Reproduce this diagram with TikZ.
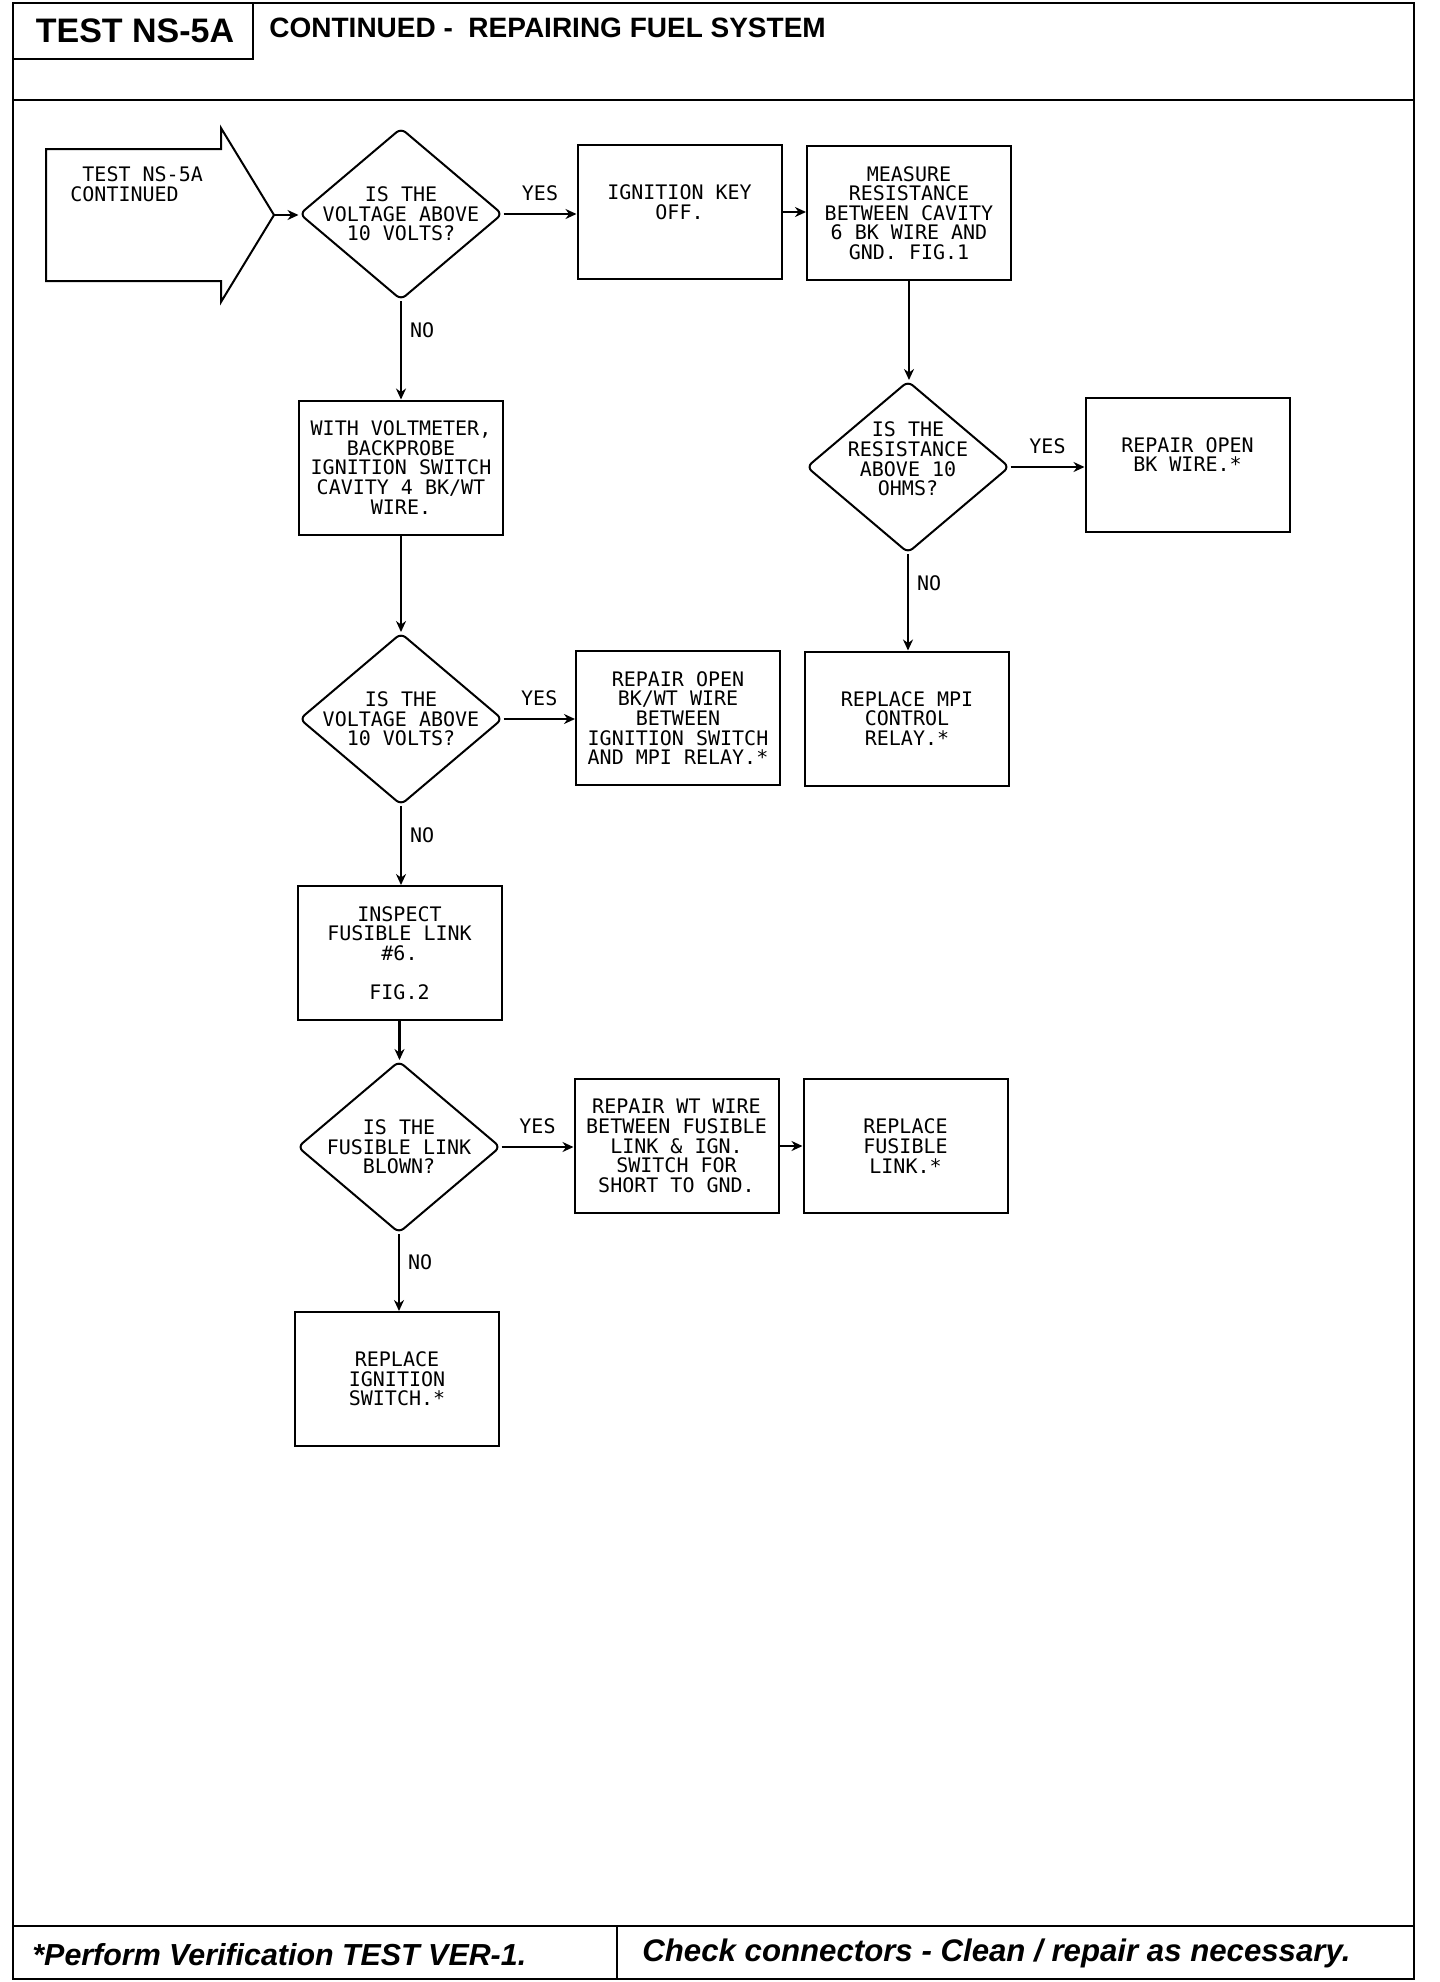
\documentclass[tikz,border=0pt]{standalone}
\usepackage{fontspec}
\setmainfont{Liberation Sans}
\newfontfamily\monofnt{DejaVu Sans Mono}
\usetikzlibrary{shapes.geometric,arrows.meta}
\newcommand\bxf{\monofnt\fontsize{10}{9.8}\selectfont}
\begin{document}
\begin{tikzpicture}[x=0.5pt,y=-0.5pt,
  frame/.style={draw,line width=1.1pt},
  box/.style={draw,line width=1pt,inner sep=0pt,align=center,font=\bxf,minimum width=102pt,minimum height=67pt},
  dia/.style={diamond,draw,line width=1pt,inner sep=0pt,rounded corners=3pt,minimum width=101.5pt,minimum height=86pt},
  txt/.style={align=center,font=\bxf,inner sep=0pt},
  lbl/.style={font=\bxf,inner sep=1pt},
  conn/.style={line width=1.1pt,-{Stealth[length=5.5pt,width=5pt]}}]
\useasboundingbox (0,0) rectangle (1440,1982);
% frame
\draw[frame] (13,3) rectangle (1414,1979);
\draw[frame] (13,100) -- (1414,100);
\draw[frame] (13,1926) -- (1414,1926);
\draw[frame] (617,1926) -- (617,1979);
\draw[frame] (13,3) rectangle (253,59);
\node[font=\fontsize{17}{19}\selectfont\bfseries,inner sep=0pt] (title) at (135,31) {TEST NS-5A};
\node[font=\fontsize{14}{16}\selectfont\bfseries,inner sep=0pt,anchor=west] (subtitle) at (269,28) {CONTINUED -\ \ REPAIRING FUEL SYSTEM};
\node[font=\fontsize{15.2}{17}\selectfont\bfseries\itshape,inner sep=0pt,anchor=west] (foot1) at (32,1955) {*Perform Verification TEST VER-1.};
\node[font=\fontsize{15.6}{17}\selectfont\bfseries\itshape,inner sep=0pt,anchor=west] (foot2) at (642,1953) {Check connectors - Clean / repair as necessary.};
% start arrow
\draw[line width=1pt] (46,149) -- (221,149) -- (221,128) -- (274,215) -- (221,302) -- (221,281) -- (46,281) -- cycle;
\coordinate (starttip) at (274,215);
\node[txt,align=left,anchor=west] (start) at (70,184) {\hphantom{X}TEST NS-5A\\CONTINUED};
% diamonds
\node[dia] (d1) at (401,214) {};
\node[txt] (d1t) at (d1) {IS THE\\VOLTAGE ABOVE\\10 VOLTS?};
\node[dia] (d2) at (908,467) {};
\node[txt,yshift=4pt] (d2t) at (d2) {IS THE\\RESISTANCE\\ABOVE 10\\OHMS?};
\node[dia] (d3) at (401,719) {};
\node[txt] (d3t) at (d3) {IS THE\\VOLTAGE ABOVE\\10 VOLTS?};
\node[dia] (d4) at (399,1147) {};
\node[txt] (d4t) at (d4) {IS THE\\FUSIBLE LINK\\BLOWN?};
% boxes
\node[box] (ign) at (679.5,212) {IGNITION KEY\\OFF.\\ };
\node[box] (meas) at (909,213) {MEASURE\\RESISTANCE\\BETWEEN CAVITY\\6 BK WIRE AND\\GND. FIG.1};
\node[box] (rbk) at (1187.5,464.5) {REPAIR OPEN\\BK WIRE.*\\ };
\node[box] (mpi) at (907,718.5) {REPLACE MPI\\CONTROL\\RELAY.*};
\node[box] (volt) at (401,467.5) {WITH VOLTMETER,\\BACKPROBE\\IGNITION SWITCH\\CAVITY 4 BK/WT\\WIRE.};
\node[box] (rbkwt) at (678,718) {REPAIR OPEN\\BK/WT WIRE\\BETWEEN\\IGNITION SWITCH\\AND MPI RELAY.*};
\node[box] (insp) at (399.5,953) {INSPECT\\FUSIBLE LINK\\\#6.\\[9.8pt]FIG.2};
\node[box] (rwt) at (676.5,1146) {REPAIR WT WIRE\\BETWEEN FUSIBLE\\LINK \& IGN.\\SWITCH FOR\\SHORT TO GND.};
\node[box] (rfl) at (905.5,1146) {REPLACE\\FUSIBLE\\LINK.*};
\node[box] (rign) at (397,1379) {REPLACE\\IGNITION\\SWITCH.*};
% connectors
\draw[conn] (starttip) -- (starttip -| d1.west);
\draw[conn] (d1.east) -- node[lbl,above=5pt] {YES} (d1.east -| ign.west);
\draw[conn] (ign.east) -- (ign.east -| meas.west);
\draw[conn] (meas.south) -- (meas.south |- d2.north);
\draw[conn] (d2.east) -- node[lbl,above=5pt] {YES} (d2.east -| rbk.west);
\draw[conn] (d2.south) -- node[lbl,pos=0.3,right=3pt] {NO} (d2.south |- mpi.north);
\draw[conn] (d1.south) -- node[lbl,pos=0.3,right=3pt] {NO} (d1.south |- volt.north);
\draw[conn] (volt.south) -- (volt.south |- d3.north);
\draw[conn] (d3.east) -- node[lbl,above=5pt] {YES} (d3.east -| rbkwt.west);
\draw[conn] (d3.south) -- node[lbl,pos=0.37,right=3pt] {NO} (d3.south |- insp.north);
\draw[conn] (insp.south) -- (insp.south |- d4.north);
\draw[conn] (d4.east) -- node[lbl,above=5pt] {YES} (d4.east -| rwt.west);
\draw[conn] (rwt.east) -- (rwt.east -| rfl.west);
\draw[conn] (d4.south) -- node[lbl,pos=0.37,right=3pt] {NO} (d4.south |- rign.north);
\end{tikzpicture}
\end{document}
